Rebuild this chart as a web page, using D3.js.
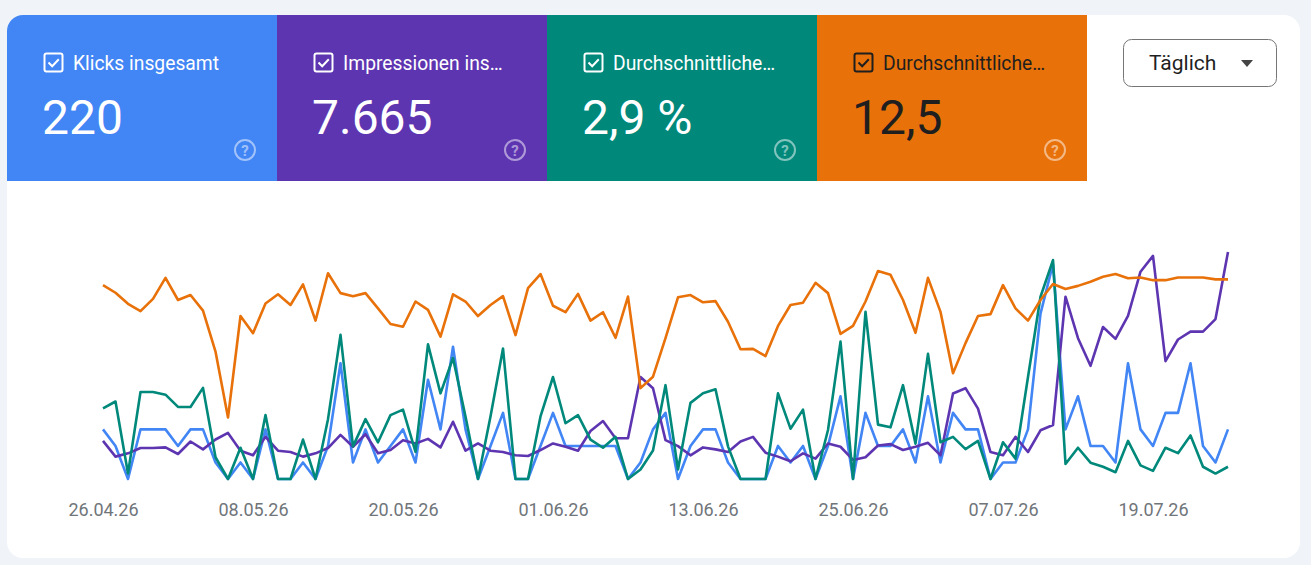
<!DOCTYPE html>
<html>
<head>
<meta charset="utf-8">
<script src="https://cdn.jsdelivr.net/npm/d3@7"></script>
<style>
  body { margin: 0; background: #f0f4f9; font-family: Roboto, "Noto Sans", sans-serif; }
  svg { display: block; }
</style>
</head>
<body>
<svg id="chart" width="1311" height="565"></svg>
<script>
// daily values, 26.04.26 .. 25.07.26
const startDate = new Date(2026, 3, 26);

const clicks = [
  3,2,0,3,3,3,2,3,3,1,
  0,1,0,3,0,0,1,0,2,7,
  1,3,1,2,3,1,6,3,8,3,
  0,2,4,0,0,2,4,2,2,2,
  2,2,0,1,3,4,0,2,3,3,
  1,0,0,0,2,1,2,0,2,5,
  0,4,2,2,3,1,5,1,4,3,
  3,0,1,1,3,10,13,3,5,2,
  2,1,7,3,2,4,4,7,2,1,3
];

const impressions = [
  58,34,39,47,47,48,38,57,45,60,
  70,43,36,64,43,41,34,39,47,67,
  49,68,39,44,59,54,61,48,87,43,
  54,43,41,36,35,44,54,49,43,73,
  88,62,62,155,138,59,50,36,48,45,
  41,57,64,40,34,27,39,31,54,49,
  29,33,51,53,44,49,55,36,130,138,
  107,41,36,64,41,74,82,277,214,172,
  231,213,248,315,339,179,212,224,224,243,345
];

const ctr = [
  5.2,5.7,0.4,6.4,6.4,6.2,5.3,5.3,6.7,1.6,
  0,2.3,0,4.7,0,0,2.9,0,4.4,10.6,
  2.4,4.4,2.7,4.7,5.1,2.0,9.9,6.3,8.9,4.6,
  0,4.6,9.6,0,0,4.6,7.5,4.1,4.7,2.9,
  2.3,3.1,0,0.7,2.1,6.9,0.7,5.6,6.3,6.6,
  2.4,0,0,0,6.3,3.7,5.1,0,3.6,10.1,
  0,12.3,4.0,3.8,6.9,2.6,9.2,2.7,3.1,2.2,
  2.8,0,2.7,1.5,7.5,13.4,16.1,1.1,2.3,1.2,
  0.9,0.5,2.8,1.0,0.6,2.3,1.9,3.2,0.9,0.4,0.9
];

const position = [
  9.2,11.2,14.1,16.0,12.8,7.3,13.1,11.8,15.9,26.6,
  43.9,17.3,21.8,14.0,11.6,14.4,9.0,18.5,6.1,11.3,
  12.1,11.3,15.3,19.4,20.1,13.5,15.7,22.7,11.6,13.5,
  17.3,14.4,12.1,22.3,10.0,6.3,14.6,16.3,11.5,18.5,
  16.3,23.0,12.2,36.2,33.2,23.1,12.4,11.8,13.7,13.4,
  18.8,26.0,25.9,27.8,19.9,14.4,13.8,8.6,11.3,22.0,
  19.9,13.5,5.5,6.5,13.1,21.7,7.3,16.2,32.3,24.4,
  17.3,16.8,9.2,15.3,18.5,13.1,8.9,10.2,9.4,8.3,
  7.0,6.3,7.4,7.2,7.9,7.9,7.2,7.2,7.2,7.7,7.7
];

const tileLabels = ["Klicks insgesamt", "Impressionen ins…", "Durchschnittliche…", "Durchschnittliche…"];
const tileValues = ["220", "7.665", "2,9 %", "12,5"];
const tileColors = ["#4285f4", "#5e35b1", "#00897b", "#e8710a"];
const tileText = ["#ffffff", "#ffffff", "#ffffff", "#1f1f1f"];

const dates = clicks.map((d, i) => d3.timeDay.offset(startDate, i));
const tickDates = d3.range(0, 91, 12).map(i => d3.timeDay.offset(startDate, i));

const svg = d3.select("#chart");

// card
svg.append("defs").append("clipPath").attr("id", "cardClip")
  .append("rect").attr("x", 7).attr("y", 15).attr("width", 1293).attr("height", 543).attr("rx", 16);

const card = svg.append("g").attr("clip-path", "url(#cardClip)");
card.append("rect").attr("x", 7).attr("y", 15).attr("width", 1293).attr("height", 543).attr("fill", "#fff");

// metric tiles
const tiles = card.selectAll("g.tile").data(tileLabels).join("g")
  .attr("class", "tile")
  .attr("transform", (d, i) => `translate(${7 + i * 270},15)`);

tiles.append("rect").attr("width", 270).attr("height", 166).attr("fill", (d, i) => tileColors[i]);

tiles.append("rect")
  .attr("x", 37.5).attr("y", 38.5).attr("width", 18).attr("height", 18).attr("rx", 2)
  .attr("fill", "none").attr("stroke", (d, i) => tileText[i]).attr("stroke-width", 2);
tiles.append("path")
  .attr("d", "M41.5,47.5 L45.2,51.2 L51.8,44.2")
  .attr("fill", "none").attr("stroke", (d, i) => tileText[i]).attr("stroke-width", 2);

tiles.append("text")
  .attr("x", 66).attr("y", 55)
  .attr("font-size", 19.3)
  .attr("fill", (d, i) => tileText[i])
  .text(d => d);

tiles.append("text")
  .attr("x", 35).attr("y", 119)
  .attr("font-size", 48)
  .attr("fill", (d, i) => tileText[i])
  .text((d, i) => tileValues[i]);

tiles.append("circle")
  .attr("cx", 238).attr("cy", 135).attr("r", 10)
  .attr("fill", "none").attr("stroke", "rgba(255,255,255,0.5)").attr("stroke-width", 2);
tiles.append("text")
  .attr("x", 238).attr("y", 141).attr("text-anchor", "middle")
  .attr("font-size", 15).attr("font-weight", 700)
  .attr("fill", "rgba(255,255,255,0.5)")
  .text("?");

// dropdown
const dd = svg.append("g");
dd.append("rect").attr("x", 1123.5).attr("y", 39.5).attr("width", 153).attr("height", 47).attr("rx", 8)
  .attr("fill", "#fff").attr("stroke", "#747775");
dd.append("text").attr("x", 1149).attr("y", 70).attr("font-size", 21).attr("fill", "#1f1f1f").text("Täglich");
dd.append("path").attr("d", "M1241,60 L1253,60 L1247,67 Z").attr("fill", "#444");

// chart
const x = d3.scaleTime().domain([dates[0], dates[dates.length - 1]]).range([103, 1228]);
const yRange = [479, 250];
const yClicks = d3.scaleLinear().domain([0, 13.85]).range(yRange);
const yImpr = d3.scaleLinear().domain([0, 348]).range(yRange);
const yCtr = d3.scaleLinear().domain([0, 16.84]).range(yRange);
const yPos = d3.scaleLinear().domain([60, 0]).range(yRange);

const series = [
  { values: clicks, y: yClicks, color: tileColors[0] },
  { values: impressions, y: yImpr, color: tileColors[1] },
  { values: ctr, y: yCtr, color: tileColors[2] },
  { values: position, y: yPos, color: tileColors[3] }
];

series.forEach(s => {
  const line = d3.line()
    .x((d, i) => x(dates[i]))
    .y(d => s.y(d));
  svg.append("path")
    .datum(s.values)
    .attr("d", line)
    .attr("fill", "none")
    .attr("stroke", s.color)
    .attr("stroke-width", 2.6)
    .attr("stroke-linejoin", "round");
});

const axis = svg.append("g")
  .attr("transform", "translate(0,503)")
  .call(d3.axisBottom(x).tickValues(tickDates).tickFormat(d3.timeFormat("%d.%m.%y")).tickSize(0).tickPadding(0));
axis.select(".domain").remove();
axis.selectAll("text")
  .attr("font-family", "Roboto, sans-serif")
  .attr("font-size", 18)
  .attr("fill", "#70757a");
</script>
</body>
</html>
